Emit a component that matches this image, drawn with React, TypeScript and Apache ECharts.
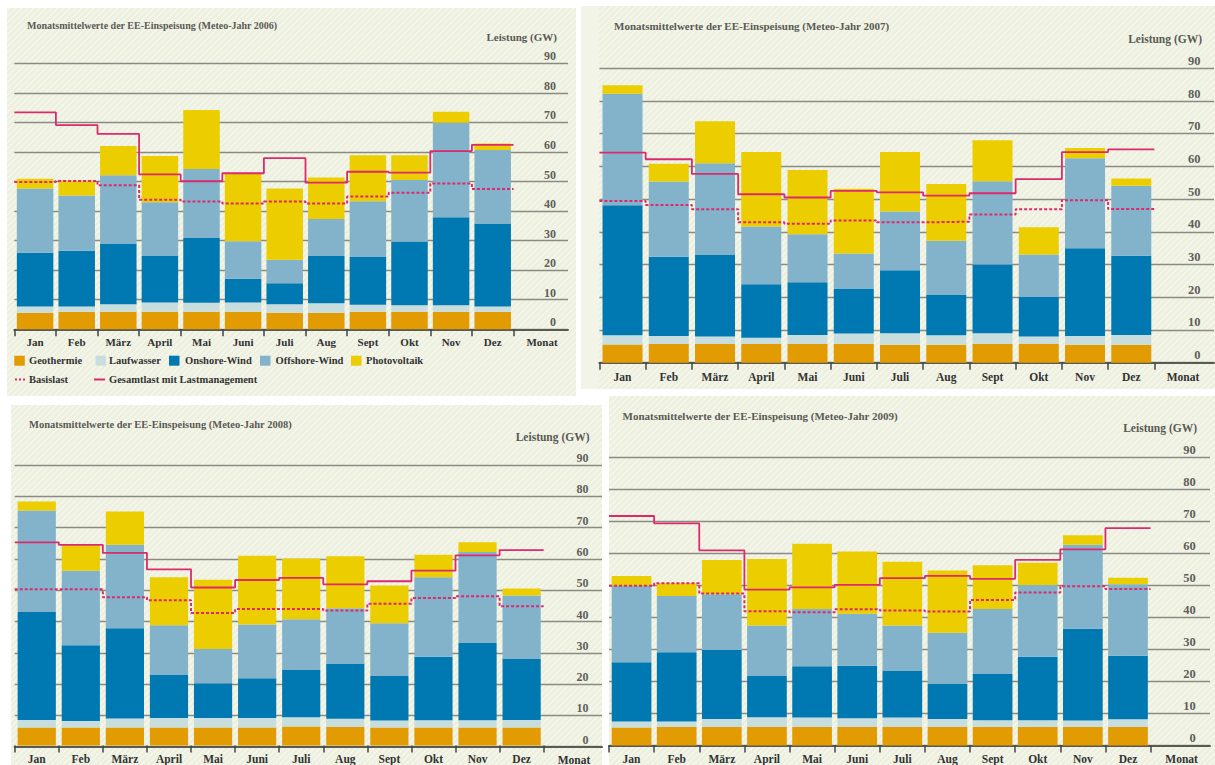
import React, { useEffect, useRef } from "react";
import * as echarts from "echarts";

const MONTHS = ["Jan", "Feb", "März", "April", "Mai", "Juni", "Juli", "Aug", "Sept", "Okt", "Nov", "Dez"];
const X_END_LABEL = "Monat";
const Y_UNIT_LABEL = "Leistung (GW)";
const TITLE_PREFIX = "Monatsmittelwerte der EE-Einspeisung (Meteo-Jahr ";
const SOURCES = ["Geothermie", "Laufwasser", "Onshore-Wind", "Offshore-Wind", "Photovoltaik"];
const LOADS = ["Basislast", "Gesamtlast mit Lastmanagement"];
const YEARS = [2006, 2007, 2008, 2009];

// 2006 (GW, monthly means, stacked segments)
const GEO_2006 = [5.6, 5.9, 5.9, 5.9, 5.9, 5.9, 5.6, 5.6, 5.9, 5.9, 5.9, 5.9];
const LAUF_2006 = [2.1, 1.8, 2.6, 3.2, 3.1, 3.2, 2.9, 3.2, 2.4, 2.2, 2.2, 1.8];
const ONSHORE_2006 = [18.2, 18.9, 20.5, 15.7, 21.9, 8.0, 7.1, 16.0, 16.2, 21.6, 29.8, 28.1];
const OFFSHORE_2006 = [21.7, 18.7, 23.1, 18.2, 23.3, 12.7, 7.9, 12.5, 18.8, 20.8, 32.0, 24.9];
const PV_2006 = [3.3, 4.9, 9.9, 15.6, 20.0, 22.8, 24.1, 14.1, 15.6, 8.4, 3.7, 2.2];
const BASIS_2006 = [49.8, 50.2, 48.7, 43.8, 43.2, 42.6, 43.2, 42.6, 44.9, 46.2, 49.3, 47.5];
const GESAMT_2006 = [73.4, 69.1, 66.1, 52.4, 50.1, 52.8, 57.9, 49.6, 53.3, 53.0, 60.3, 62.4];

// 2007
const GEO_2007 = [5.6, 5.7, 5.7, 5.7, 5.7, 5.7, 5.5, 5.5, 5.7, 5.7, 5.5, 5.5];
const LAUF_2007 = [2.8, 2.5, 2.3, 1.9, 2.8, 3.2, 3.5, 2.9, 3.3, 2.3, 2.7, 3.0];
const ONSHORE_2007 = [39.7, 24.2, 25.1, 16.4, 16.1, 13.6, 19.3, 12.3, 21.0, 12.1, 26.8, 24.2];
const OFFSHORE_2007 = [34.1, 23.0, 27.9, 17.6, 14.7, 10.9, 17.9, 16.6, 25.5, 13.0, 27.5, 21.4];
const PV_2007 = [2.6, 5.4, 12.8, 22.8, 19.6, 19.8, 18.2, 17.3, 12.5, 8.3, 3.1, 2.2];
const BASIS_2007 = [49.4, 48.2, 46.9, 42.9, 42.5, 43.5, 42.9, 43.1, 45.3, 46.9, 49.7, 47.0];
const GESAMT_2007 = [64.2, 62.2, 57.7, 51.5, 50.5, 52.5, 52.1, 51.1, 51.8, 56.1, 64.4, 65.2];

// 2008
const GEO_2008 = [5.8, 5.8, 5.8, 5.8, 5.8, 5.8, 6.1, 5.9, 5.8, 5.8, 5.8, 5.8];
const LAUF_2008 = [2.4, 2.1, 2.9, 3.0, 3.0, 3.0, 3.0, 2.7, 2.2, 2.3, 2.3, 2.4];
const ONSHORE_2008 = [34.6, 24.3, 28.9, 14.0, 11.2, 12.8, 15.1, 17.7, 14.3, 20.4, 24.8, 19.7];
const OFFSHORE_2008 = [32.6, 23.9, 26.8, 15.8, 11.0, 17.2, 16.3, 17.7, 16.9, 25.5, 29.2, 20.2];
const PV_2008 = [2.9, 8.1, 10.7, 15.4, 22.2, 22.1, 19.5, 16.7, 12.1, 7.2, 3.1, 2.3];
const BASIS_2008 = [50.1, 50.1, 47.6, 46.6, 42.5, 43.8, 43.8, 43.3, 45.5, 47.3, 47.9, 44.7];
const GESAMT_2008 = [65.2, 64.4, 61.8, 56.5, 50.7, 53.1, 53.8, 51.7, 52.7, 56.1, 61.0, 62.7];

// 2009
const GEO_2009 = [5.6, 5.8, 5.8, 5.8, 5.8, 5.8, 5.8, 5.8, 5.8, 5.8, 5.8, 5.8];
const LAUF_2009 = [1.9, 1.7, 2.5, 3.0, 2.9, 2.7, 2.9, 2.5, 2.1, 2.1, 2.0, 2.4];
const ONSHORE_2009 = [18.5, 21.6, 21.5, 12.9, 16.0, 16.4, 14.7, 10.9, 14.4, 19.8, 28.6, 19.8];
const OFFSHORE_2009 = [23.8, 17.5, 17.4, 15.7, 17.9, 16.2, 14.0, 16.0, 20.3, 22.4, 26.2, 22.3];
const PV_2009 = [3.1, 4.0, 10.7, 20.8, 20.3, 19.4, 19.9, 19.4, 13.6, 6.9, 3.0, 2.0];
const BASIS_2009 = [49.8, 50.6, 47.4, 41.9, 41.6, 42.5, 42.1, 41.8, 45.4, 47.7, 49.7, 48.8];
const GESAMT_2009 = [71.6, 69.3, 60.9, 48.6, 49.3, 50.1, 52.2, 52.9, 52.0, 57.9, 61.2, 67.8];

const STACKS = [
  [GEO_2006, LAUF_2006, ONSHORE_2006, OFFSHORE_2006, PV_2006],
  [GEO_2007, LAUF_2007, ONSHORE_2007, OFFSHORE_2007, PV_2007],
  [GEO_2008, LAUF_2008, ONSHORE_2008, OFFSHORE_2008, PV_2008],
  [GEO_2009, LAUF_2009, ONSHORE_2009, OFFSHORE_2009, PV_2009],
];
const BASIS = [BASIS_2006, BASIS_2007, BASIS_2008, BASIS_2009];
const GESAMT = [GESAMT_2006, GESAMT_2007, GESAMT_2008, GESAMT_2009];

const COLORS = ["#e29b00", "#c8dede", "#0079b2", "#82b3cb", "#ebcd00"];
const LOAD_COLOR = "#dc2a6c";
const BG = "#edf0df";
const FONT = "'Liberation Serif', 'DejaVu Serif', serif";

// Layout for the four panels (pixel positions)
const PANELS = [
  { bg: [7, 8, 569, 388], L: 14.3, R: 568, T: 63.3, B: 329.3, S: 41.6, barW: 36.5, tx: 27, ty: 25, ts: 10, lr: 557, ly: 37, yr: 556, mx: 542, fs: 11, ysz: 12, lm: 7 },
  { bg: [581, 6, 634, 383], strip: [581, 6, 18, 383], L: 599.4, R: 1214, T: 68.3, B: 362.7, S: 46.25, barW: 40, tx: 614, ty: 26, ts: 11, lr: 1202, ly: 39, yr: 1200.5, mx: 1183, fs: 11.5, ysz: 12.5, lm: 8 },
  { bg: [11, 405, 591, 360], L: 14.7, R: 602, T: 465, B: 746.7, S: 44.08, barW: 38.2, tx: 29, ty: 424, ts: 10.5, lr: 589.5, ly: 436.7, yr: 588.4, mx: 574, fs: 11.5, ysz: 12, lm: 7.5 },
  { bg: [609, 396, 606, 369], L: 609, R: 1210, T: 457, B: 745.7, S: 45.13, barW: 39.7, tx: 622.5, ty: 415.7, ts: 11, lr: 1197, ly: 428, yr: 1195.7, mx: 1181.6, fs: 11.5, ysz: 12.5, lm: 7.5 },
];

function stepData(v: number[]) {
  const d: number[][] = v.map((y, i) => [i, y]);
  d.push([v.length, v[v.length - 1]]);
  return d;
}

function hatchURL(): string {
  const c = document.createElement("canvas");
  c.width = 6;
  c.height = 6;
  const ctx = c.getContext("2d");
  if (!ctx) return "";
  ctx.strokeStyle = "rgba(255,255,255,0.55)";
  ctx.lineWidth = 1.2;
  ctx.beginPath();
  ctx.moveTo(0, 6); ctx.lineTo(6, 0);
  ctx.moveTo(-1, 1); ctx.lineTo(1, -1);
  ctx.moveTo(5, 7); ctx.lineTo(7, 5);
  ctx.stroke();
  return c.toDataURL();
}

function buildOption() {
  const grid: any[] = [];
  const xAxis: any[] = [];
  const yAxis: any[] = [];
  const series: any[] = [];
  const graphic: any[] = [];
  const hatch = hatchURL();

  PANELS.forEach((p, k) => {
    const [bx, by, bw, bh] = p.bg;
    graphic.push({ type: "rect", z: -20, silent: true, shape: { x: bx, y: by, width: bw, height: bh }, style: { fill: BG } });
    if (hatch) {
      graphic.push({ type: "rect", z: -19, silent: true, shape: { x: bx, y: by, width: bw, height: bh }, style: { fill: { image: hatch, repeat: "repeat", imageWidth: 6, imageHeight: 6 } } });
    }
    if (p.strip) {
      const [sx, sy, sw, sh] = p.strip;
      graphic.push({ type: "rect", z: -18, silent: true, shape: { x: sx, y: sy, width: sw, height: sh }, style: { fill: "#f1f4e6" } });
    }
    graphic.push({ type: "text", z: 10, x: p.tx, y: p.ty, style: { text: TITLE_PREFIX + YEARS[k] + ")", fill: "#5a5a55", fontFamily: FONT, fontWeight: "bold", fontSize: p.ts, verticalAlign: "middle", align: "left" } });
    graphic.push({ type: "text", z: 10, x: p.lr, y: p.ly, style: { text: Y_UNIT_LABEL, fill: "#5a5a55", fontFamily: FONT, fontWeight: "bold", fontSize: p.fs, verticalAlign: "middle", align: "right" } });
    graphic.push({ type: "text", z: 10, x: p.mx, y: p.B + p.lm + p.fs / 2 + 0.5, style: { text: X_END_LABEL, fill: "#333", fontFamily: FONT, fontWeight: "bold", fontSize: p.fs, verticalAlign: "middle", align: "center" } });

    const gBg = grid.length;
    grid.push({ left: p.L, top: p.T, width: p.R - p.L, height: p.B - p.T, containLabel: false });
    const gBar = grid.length;
    grid.push({ left: p.L, top: p.T, width: p.S * 12, height: p.B - p.T, containLabel: false });

    const xBg = xAxis.length;
    xAxis.push({ type: "value", gridIndex: gBg, min: 0, max: 1, axisLine: { show: true, lineStyle: { color: "#5a5a54", width: 2 } }, axisTick: { show: false }, axisLabel: { show: false }, splitLine: { show: false } });
    const xCat = xAxis.length;
    xAxis.push({
      type: "category", gridIndex: gBar, data: MONTHS, boundaryGap: true,
      axisLine: { show: false },
      axisTick: { show: true, interval: 0, length: 7, alignWithLabel: false, lineStyle: { color: "#444", width: 1.5 } },
      axisLabel: { interval: 0, margin: p.lm, fontFamily: FONT, fontWeight: "bold", fontSize: p.fs, color: "#333" },
      splitLine: { show: false },
    });
    const xVal = xAxis.length;
    xAxis.push({ type: "value", gridIndex: gBar, position: "top", min: 0, max: 12, show: false });

    const yBg = yAxis.length;
    yAxis.push({
      type: "value", gridIndex: gBg, min: 0, max: 90, interval: 10, position: "right",
      axisLine: { show: false }, axisTick: { show: false },
      splitLine: { show: true, lineStyle: { color: "#8b8b83", width: 1.3 } },
      axisLabel: { inside: true, margin: p.R - p.yr, verticalAlign: "bottom", padding: [0, 0, 1, 0], fontFamily: FONT, fontWeight: "bold", fontSize: p.ysz, color: "#5f5f5a" },
    });
    const yBar = yAxis.length;
    yAxis.push({ type: "value", gridIndex: gBar, min: 0, max: 90, show: false, splitLine: { show: false } });

    STACKS[k].forEach((arr, s) => {
      series.push({
        type: "bar", name: SOURCES[s], xAxisIndex: xCat, yAxisIndex: yBar, stack: "p" + k,
        barWidth: p.barW, data: arr, itemStyle: { color: COLORS[s] }, silent: true, z: 2,
      });
    });
    series.push({
      type: "line", name: LOADS[0], xAxisIndex: xVal, yAxisIndex: yBar, step: "end", data: stepData(BASIS[k]),
      symbol: "none", showSymbol: false, silent: true, z: 4,
      lineStyle: { color: LOAD_COLOR, width: 2, type: [3, 2] },
    });
    series.push({
      type: "line", name: LOADS[1], xAxisIndex: xVal, yAxisIndex: yBar, step: "end", data: stepData(GESAMT[k]),
      symbol: "none", showSymbol: false, silent: true, z: 5,
      lineStyle: { color: LOAD_COLOR, width: 1.8 },
    });
  });

  // Legend (first panel only)
  const r1 = 360.7, r2 = 379.5;
  const sqX = [14.3, 95.5, 169, 260, 351];
  const txX = [29, 109, 185, 275.5, 366];
  SOURCES.forEach((name, i) => {
    graphic.push({ type: "rect", z: 10, shape: { x: sqX[i], y: r1 - 5, width: 10.5, height: 10 }, style: { fill: COLORS[i] } });
    graphic.push({ type: "text", z: 10, x: txX[i], y: r1, style: { text: name, fill: "#333", fontFamily: FONT, fontWeight: "bold", fontSize: 10.5, verticalAlign: "middle", align: "left" } });
  });
  graphic.push({ type: "line", z: 10, shape: { x1: 15, y1: r2, x2: 27, y2: r2 }, style: { stroke: LOAD_COLOR, lineWidth: 2, lineDash: [2, 2] } });
  graphic.push({ type: "text", z: 10, x: 29, y: r2, style: { text: LOADS[0], fill: "#333", fontFamily: FONT, fontWeight: "bold", fontSize: 10.5, verticalAlign: "middle", align: "left" } });
  graphic.push({ type: "line", z: 10, shape: { x1: 94, y1: r2, x2: 105, y2: r2 }, style: { stroke: LOAD_COLOR, lineWidth: 2 } });
  graphic.push({ type: "text", z: 10, x: 109, y: r2, style: { text: LOADS[1], fill: "#333", fontFamily: FONT, fontWeight: "bold", fontSize: 10.5, verticalAlign: "middle", align: "left" } });

  return {
    animation: false,
    backgroundColor: "#ffffff",
    grid, xAxis, yAxis, series,
    graphic: { elements: graphic },
  };
}

export default function App() {
  const ref = useRef<HTMLDivElement>(null);
  useEffect(() => {
    if (!ref.current) return;
    const chart = echarts.init(ref.current, undefined, { renderer: "svg" });
    chart.setOption(buildOption() as any);
    return () => chart.dispose();
  }, []);
  return <div ref={ref} style={{ position: "absolute", left: 0, top: 0, width: 1215, height: 765 }} />;
}
